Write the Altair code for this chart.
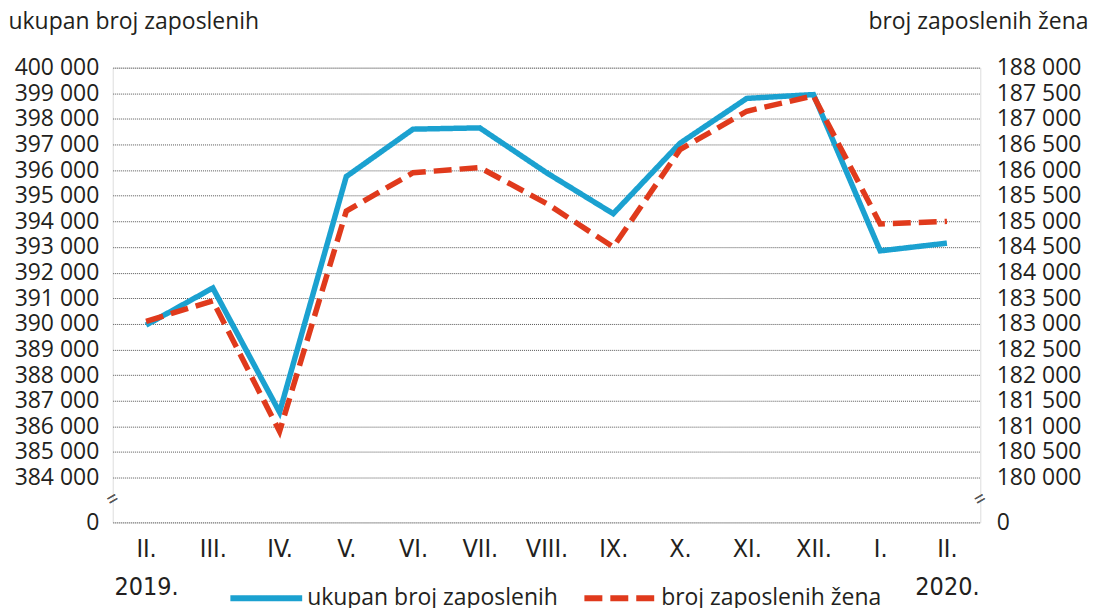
import altair as alt
import pandas as pd

months = ["II. 2019", "III.", "IV.", "V.", "VI.", "VII.", "VIII.", "IX.", "X.", "XI.", "XII.", "I.", "II. 2020"]
total = [389950, 391400, 386550, 395750, 397600, 397650, 395900, 394300, 397050, 398800, 398950, 392850, 393150]
women = [183050, 183450, 180900, 185200, 185950, 186050, 185350, 184500, 186400, 187150, 187450, 184950, 185000]

left_ticks = [382250] + list(range(384000, 400001, 1000))
right_ticks = [179125] + list(range(180000, 188001, 500))

S_TOTAL = "ukupan broj zaposlenih"
S_WOMEN = "broj zaposlenih žena"

df = pd.DataFrame({
    "month": months * 2,
    "value": total + women,
    "series": [S_TOTAL] * len(months) + [S_WOMEN] * len(months),
})

FONT = "Open Sans"
NARROW = "DejaVu Sans Condensed, Roboto, sans-serif"
TXT = "#231f20"

color = alt.Color(
    "series:N",
    scale=alt.Scale(domain=[S_TOTAL, S_WOMEN], range=["#1ba1d0", "#e03a1c"]),
    legend=alt.Legend(
        title=None, orient="none", direction="horizontal", legendX=115, legendY=493,
        symbolType="stroke", symbolSize=5184, symbolStrokeWidth=6,
        labelFontSize=23, labelFont=FONT, labelColor=TXT, labelOffset=2, columnPadding=14,
        labelLimit=400,
    ),
)
dash = alt.StrokeDash(
    "series:N",
    scale=alt.Scale(domain=[S_TOTAL, S_WOMEN], range=[[1, 0], [18, 8]]),
    legend=None,
)

x = alt.X(
    "month:N", sort=months, title=None,
    scale=alt.Scale(paddingInner=0, paddingOuter=0.5),
    axis=alt.Axis(
        ticks=False, domain=False, grid=False, labelAngle=0, labelPadding=14,
        labelFont=NARROW, labelFontSize=25, labelColor=TXT, labelLineHeight=38,
        labelExpr="datum.value == 'II. 2019' ? ['II.', '2019.'] : datum.value == 'II. 2020' ? ['II.', '2020.'] : datum.value",
    ),
)

blue = alt.Chart(df).transform_filter(alt.datum.series == S_TOTAL).mark_line(strokeWidth=5.5).encode(
    x=x,
    y=alt.Y(
        "value:Q", title=S_TOTAL,
        scale=alt.Scale(domain=[382250, 400000], nice=False, zero=False),
        axis=alt.Axis(
            values=left_ticks, ticks=False, domain=False, grid=True,
            gridColor="#555", gridDash=[1, 1], gridWidth=1,
            labelFont=FONT, labelFontSize=23, labelColor=TXT, labelPadding=14,
            labelExpr="datum.value < 384000 ? '0' : replace(format(datum.value, ','), ',', ' ')",
            titleAngle=0, titleX=-105, titleY=-46, titleAlign="left", titleBaseline="middle",
            titleFont=FONT, titleFontSize=23, titleFontWeight="normal", titleColor=TXT,
        ),
    ),
    color=color,
    strokeDash=dash,
)

red = alt.Chart(df).transform_filter(alt.datum.series == S_WOMEN).mark_line(strokeWidth=5.5).encode(
    x=x,
    y=alt.Y(
        "value:Q", title=S_WOMEN,
        scale=alt.Scale(domain=[179125, 188000], nice=False, zero=False),
        axis=alt.Axis(
            orient="right", values=right_ticks, ticks=False, domain=False, grid=False,
            labelFont=FONT, labelFontSize=23, labelColor=TXT, labelPadding=16,
            labelExpr="datum.value < 180000 ? '0' : replace(format(datum.value, ','), ',', ' ')",
            titleAngle=0, titleX=108, titleY=-46, titleAlign="right", titleBaseline="middle",
            titleFont=FONT, titleFontSize=23, titleFontWeight="normal", titleColor=TXT,
        ),
    ),
    color=color,
    strokeDash=dash,
)

brk_df = pd.DataFrame({"side": ["left", "right"]})
brk_l = alt.Chart(brk_df).mark_text(text="=", fontSize=18, angle=330, color="#555").encode(
    x=alt.value(0), y=alt.value(433)
)
brk_r = alt.Chart(brk_df).mark_text(text="=", fontSize=18, angle=330, color="#555").encode(
    x=alt.value(870), y=alt.value(433)
)

chart = alt.layer(blue, red, brk_l, brk_r).resolve_scale(y="independent").properties(
    width=870, height=456,
    autosize=alt.AutoSizeParams(type="none"),
    padding={"left": 105, "top": 59, "right": 110, "bottom": 85},
).configure_view(stroke="#777", strokeWidth=2).configure(background="white")

chart.save("out.html", embed_options={"renderer": "svg", "actions": False})
